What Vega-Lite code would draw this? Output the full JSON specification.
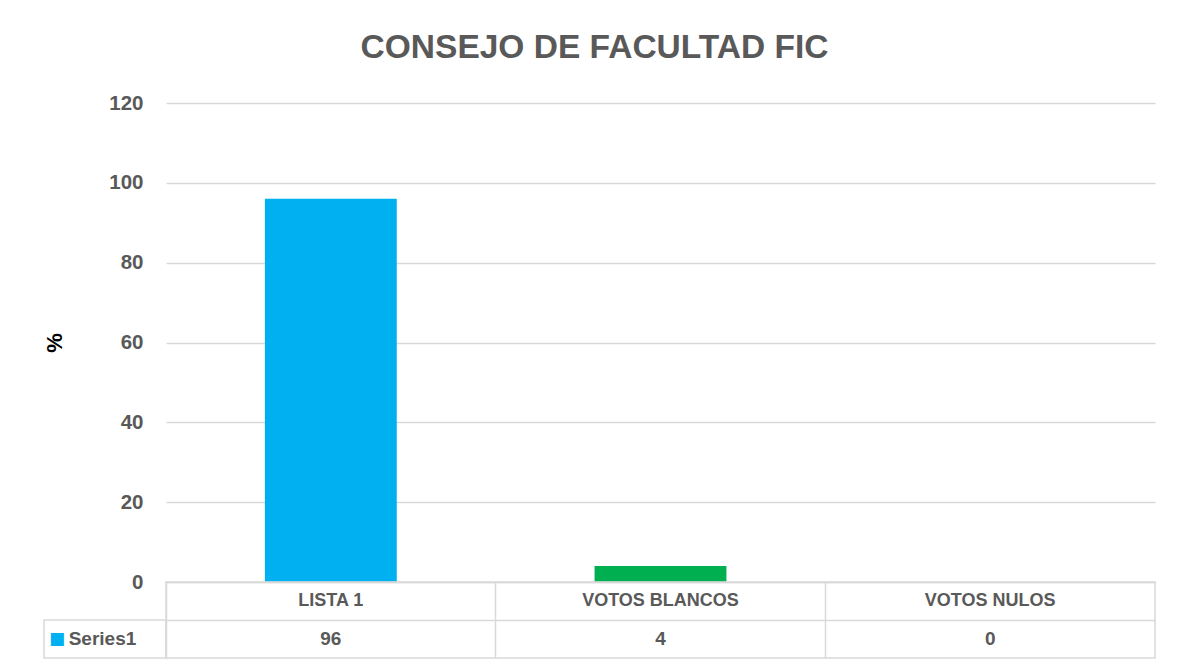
{
  "$schema": "https://vega.github.io/schema/vega-lite/v6.json",
  "padding": {"left": 43, "top": 30, "right": 28, "bottom": 13},
  "background": "white",
  "title": {"text": "CONSEJO DE FACULTAD FIC", "font": "Liberation Sans", "fontSize": 33.5, "fontWeight": "bold", "color": "#595959", "anchor": "middle", "offset": 28, "dx": -5},
  "data": {"values": [
    {"categoria": "LISTA 1", "porcentaje": 96},
    {"categoria": "VOTOS BLANCOS", "porcentaje": 4},
    {"categoria": "VOTOS NULOS", "porcentaje": 0}
  ]},
  "columns": 2,
  "spacing": 0,
  "bounds": "flush",
  "concat": [
    {
      "width": 122, "height": 479,
      "view": {"stroke": null},
      "data": {"values": []},
      "mark": {"type": "text"},
      "encoding": {}
    },
    {
      "width": 989, "height": 479,
      "view": {"stroke": null},
      "mark": {"type": "bar"},
      "encoding": {
        "x": {"field": "categoria", "type": "nominal", "sort": null, "scale": {"type": "band", "paddingInner": 0.6, "paddingOuter": 0.3}, "axis": null},
        "y": {"field": "porcentaje", "type": "quantitative", "scale": {"domain": [0, 120]},
          "axis": {"values": [0, 20, 40, 60, 80, 100, 120], "title": "%", "grid": true, "gridColor": "#d9d9d9", "gridWidth": 1.5, "domain": false, "ticks": false, "labelPadding": 23, "labelFont": "Liberation Sans", "labelFontSize": 20.5, "labelFontWeight": "bold", "labelColor": "#595959", "titleFont": "Liberation Sans", "titleFontSize": 22, "titleFontWeight": "bold", "titleColor": "#000000", "titlePadding": 42}},
        "color": {"field": "categoria", "type": "nominal", "scale": {"domain": ["LISTA 1", "VOTOS BLANCOS", "VOTOS NULOS"], "range": ["#00B0F0", "#00B050", "#FFC000"]}, "legend": null}
      }
    },
    {
      "width": 122, "height": 76,
      "view": {"stroke": null},
      "data": {"values": [{"serie": "Series1"}]},
      "encoding": {
        "y": {"field": "serie", "type": "nominal", "scale": {"type": "band", "domain": ["header", "Series1"], "paddingInner": 0, "paddingOuter": 0}, "axis": null}
      },
      "layer": [
        {"mark": {"type": "rect", "fill": "white", "stroke": "#d9d9d9", "strokeWidth": 1.5}},
        {"mark": {"type": "text", "font": "Liberation Sans", "fontSize": 19, "fontWeight": "bold", "color": "#595959", "align": "center", "baseline": "middle", "dx": -2.5}, "encoding": {"text": {"field": "serie"}}},
        {"mark": {"type": "text", "font": "DejaVu Sans", "fontSize": 17, "color": "#00B0F0", "align": "center", "baseline": "middle", "dx": -48, "text": "■"}}
      ]
    },
    {
      "width": 989, "height": 76,
      "view": {"stroke": "#d9d9d9", "strokeWidth": 1.5},
      "encoding": {
        "x": {"field": "categoria", "type": "nominal", "sort": null, "scale": {"type": "band", "paddingInner": 0, "paddingOuter": 0},
          "axis": {"labels": false, "ticks": false, "domain": false, "title": null, "grid": true, "bandPosition": 0, "gridColor": "#d9d9d9", "gridWidth": 1.5}}
      },
      "layer": [
        {
          "mark": {"type": "text", "font": "Liberation Sans", "fontSize": 18, "fontWeight": "bold", "color": "#595959", "align": "center", "baseline": "middle"},
          "encoding": {
            "y": {"datum": "header", "type": "nominal", "scale": {"type": "band", "domain": ["header", "Series1"], "paddingInner": 0, "paddingOuter": 0},
              "axis": {"labels": false, "ticks": false, "domain": false, "title": null, "grid": true, "bandPosition": 0, "gridColor": "#d9d9d9", "gridWidth": 1.5}},
            "text": {"field": "categoria", "type": "nominal"}
          }
        },
        {
          "mark": {"type": "text", "font": "Liberation Sans", "fontSize": 19, "fontWeight": "bold", "color": "#595959", "align": "center", "baseline": "middle"},
          "encoding": {
            "y": {"datum": "Series1", "type": "nominal"},
            "text": {"field": "porcentaje", "type": "quantitative"}
          }
        }
      ]
    }
  ]
}
